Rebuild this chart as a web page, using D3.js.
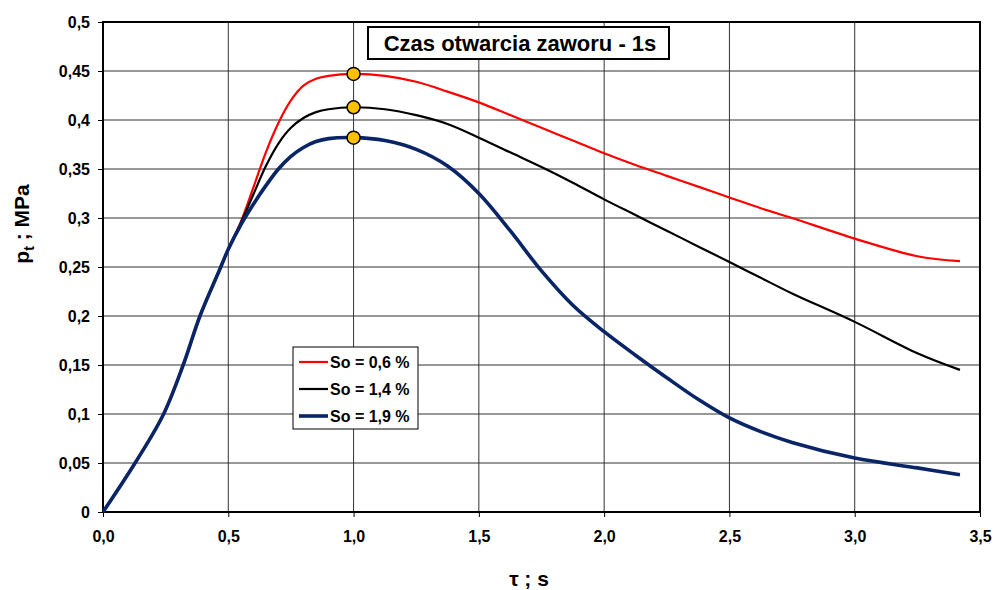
<!DOCTYPE html>
<html>
<head>
<meta charset="utf-8">
<script src="https://cdn.jsdelivr.net/npm/d3@7/dist/d3.min.js"></script>
<style>
  body { margin: 0; background: #fff; }
  text { font-family: "Liberation Sans", Arial, sans-serif; font-weight: bold; }
</style>
</head>
<body>
<div id="app"></div>
<script>
// time axis samples (s)
const tau = [0, 0.128, 0.24, 0.32, 0.387, 0.465, 0.5, 0.55, 0.6, 0.65, 0.7, 0.75, 0.8, 0.85, 0.9, 1.0,
             1.125, 1.25, 1.375, 1.5, 1.625, 1.75, 1.875, 2.0, 2.125, 2.25, 2.375, 2.5, 2.625, 2.75,
             3.0, 3.25, 3.42];

// pressure p_t (MPa) for each So
const so06 = [0, 0.05, 0.099, 0.15, 0.2, 0.247, 0.268, 0.296, 0.331, 0.367, 0.397, 0.420, 0.435, 0.442, 0.445, 0.447,
              0.445, 0.439, 0.429, 0.418, 0.405, 0.392, 0.379, 0.366, 0.354, 0.343, 0.332, 0.321, 0.310, 0.300,
              0.279, 0.261, 0.256];
const so14 = [0, 0.05, 0.099, 0.15, 0.2, 0.247, 0.268, 0.295, 0.324, 0.353, 0.376, 0.392, 0.402, 0.408, 0.411, 0.413,
              0.411, 0.405, 0.396, 0.382, 0.367, 0.352, 0.336, 0.319, 0.303, 0.287, 0.271, 0.255, 0.239, 0.223,
              0.194, 0.162, 0.145];
const so19 = [0, 0.05, 0.099, 0.15, 0.2, 0.247, 0.268, 0.293, 0.314, 0.333, 0.350, 0.363, 0.372, 0.378, 0.381, 0.382,
              0.379, 0.370, 0.353, 0.325, 0.287, 0.246, 0.211, 0.184, 0.160, 0.137, 0.115, 0.096, 0.082, 0.071,
              0.055, 0.045, 0.038];

const seriesNames = ["So = 0,6 %", "So = 1,4 %", "So = 1,9 %"];
const seriesColors = ["#ff0000", "#000000", "#0a2468"];
const seriesWidths = [2.2, 2.2, 3.6];
const seriesValues = [so06, so14, so19];

const markerTau = 1.0;

const xTicks = [0, 0.5, 1.0, 1.5, 2.0, 2.5, 3.0, 3.5];
const yTicks = [0, 0.05, 0.1, 0.15, 0.2, 0.25, 0.3, 0.35, 0.4, 0.45, 0.5];

const W = 994, H = 590;
const pLeft = 103, pRight = 980, pTop = 22, pBottom = 512;

const svg = d3.select("#app").append("svg")
  .attr("width", W)
  .attr("height", H);

const x = d3.scaleLinear().domain([0, 3.5]).range([pLeft, pRight]);
const y = d3.scaleLinear().domain([0, 0.5]).range([pBottom, pTop]);

// grid
svg.append("g").selectAll("line")
  .data(xTicks.slice(1, -1))
  .enter().append("line")
  .attr("x1", d => x(d)).attr("x2", d => x(d))
  .attr("y1", pTop).attr("y2", pBottom)
  .attr("stroke", "#333").attr("stroke-width", 1);

svg.append("g").selectAll("line")
  .data(yTicks.slice(1, -1))
  .enter().append("line")
  .attr("x1", pLeft).attr("x2", pRight)
  .attr("y1", d => y(d)).attr("y2", d => y(d))
  .attr("stroke", "#333").attr("stroke-width", 1);

// axes
const fmtY = d => d3.format("~g")(d).replace(".", ",");
const fmtX = d => d3.format(".1f")(d).replace(".", ",");

const yAxis = svg.append("g")
  .attr("transform", `translate(${pLeft},0)`)
  .call(d3.axisLeft(y).tickValues(yTicks).tickFormat(fmtY).tickSize(5).tickPadding(8));
const xAxis = svg.append("g")
  .attr("transform", `translate(0,${pBottom})`)
  .call(d3.axisBottom(x).tickValues(xTicks).tickFormat(fmtX).tickSize(5).tickPadding(14));

[yAxis, xAxis].forEach(g => {
  g.select(".domain").remove();
  g.selectAll("text").attr("font-size", 16).attr("fill", "#000");
  g.selectAll(".tick line").attr("stroke", "#000");
});

// frame
svg.append("rect")
  .attr("x", pLeft).attr("y", pTop)
  .attr("width", pRight - pLeft).attr("height", pBottom - pTop)
  .attr("fill", "none").attr("stroke", "#000").attr("stroke-width", 2);

// curves
const line = d3.line()
  .x(d => x(d[0]))
  .y(d => y(d[1]))
  .curve(d3.curveCatmullRom.alpha(0.5));

seriesValues.forEach((vals, i) => {
  svg.append("path")
    .datum(tau.map((t, k) => [t, vals[k]]))
    .attr("d", line)
    .attr("fill", "none")
    .attr("stroke", seriesColors[i])
    .attr("stroke-width", seriesWidths[i])
    .attr("stroke-linejoin", "round");
});

// markers at tau = 1 s
const mi = tau.indexOf(markerTau);
svg.append("g").selectAll("circle")
  .data(seriesValues.map(v => v[mi]))
  .enter().append("circle")
  .attr("cx", x(markerTau))
  .attr("cy", d => y(d))
  .attr("r", 6.5)
  .attr("fill", "#ffc000")
  .attr("stroke", "#000")
  .attr("stroke-width", 1.5);

// title box
svg.append("rect")
  .attr("x", 368).attr("y", 27).attr("width", 301).attr("height", 32)
  .attr("fill", "#fff").attr("stroke", "#000").attr("stroke-width", 2);
svg.append("text")
  .attr("x", 520).attr("y", 51)
  .attr("text-anchor", "middle")
  .attr("font-size", 22)
  .text("Czas otwarcia zaworu - 1s");

// legend
const legend = svg.append("g");
legend.append("rect")
  .attr("x", 293).attr("y", 347).attr("width", 125).attr("height", 82)
  .attr("fill", "#fff").attr("stroke", "#000").attr("stroke-width", 1);
seriesNames.forEach((name, i) => {
  const cy = 362 + i * 27;
  legend.append("line")
    .attr("x1", 299).attr("x2", 328)
    .attr("y1", cy).attr("y2", cy)
    .attr("stroke", seriesColors[i])
    .attr("stroke-width", seriesWidths[i]);
  legend.append("text")
    .attr("x", 330).attr("y", cy + 6)
    .attr("font-size", 16)
    .text(name);
});

// axis titles
svg.append("text")
  .attr("x", 529).attr("y", 586)
  .attr("text-anchor", "middle")
  .attr("font-size", 21)
  .text("τ ; s");

const yt = svg.append("text")
  .attr("transform", "translate(29,224) rotate(-90)")
  .attr("text-anchor", "middle")
  .attr("font-size", 21);
yt.append("tspan").text("p");
yt.append("tspan").attr("font-size", 14).attr("dy", 5).text("t");
yt.append("tspan").attr("dy", -5).text(" ; MPa");
</script>
</body>
</html>
